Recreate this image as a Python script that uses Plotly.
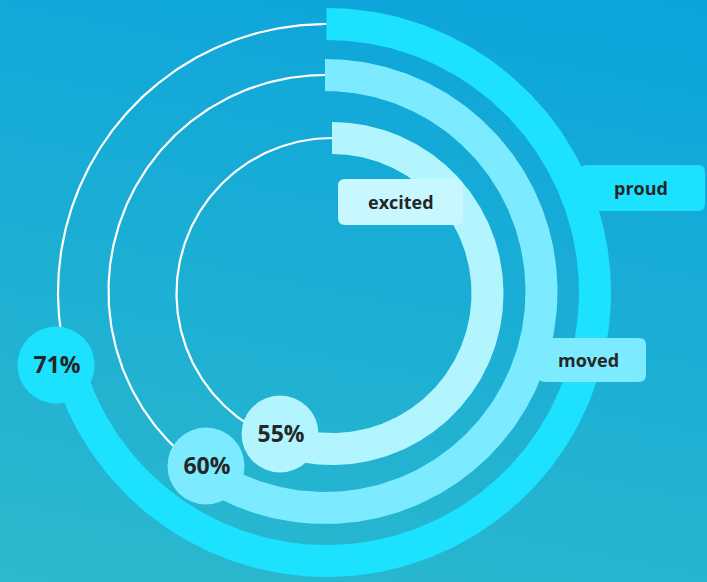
import numpy as np
import plotly.graph_objects as go

# ---- data ----
labels = ["proud", "moved", "excited"]
values = [71, 60, 55]
pct_text = ["71%", "60%", "55%"]

# ---- styling / layout constants ----
W, H = 707, 582
ring_cx = [326.5, 325.0, 332.0]
ring_cy = [292.5, 291.5, 293.5]
ring_r = [268.5, 216.5, 155.5]
ring_w = [32, 32, 32]
ring_col = ["#1CE1FF", "#7DEBFF", "#B2F5FF"]
bubble_dr = [11.5, -5.3, -5.7]
bubble_dang = [-0.6, -1.7, 2.3]
bubble_d = 77
box_col = ["#1CE1FF", "#7DEBFF", "#C7F8FF"]
boxes = [(580, 165, 705, 211), (538, 338, 646, 382), (338, 179, 463, 225)]
label_dx = [-2, -4, 0]
text_col = "#262626"
FONT = "Open Sans"

fig = go.Figure()

# background gradient
gx = np.linspace(0, W, 12)
gy = np.linspace(0, H, 12)
GX, GY = np.meshgrid(gx, gy)
Z = 0.8 * GY / H + 0.2 * (1 - GX / W)
fig.add_trace(go.Heatmap(x=gx, y=gy, z=Z, zsmooth="best", showscale=False,
                         colorscale=[[0, "#0BA4DC"], [1, "#2CB9CD"]],
                         hoverinfo="skip"))


def pt(cx, cy, r, frac, dang=0.0):
    th = np.deg2rad(90 - 360 * frac - dang)
    return cx + r * np.cos(th), cy - r * np.sin(th)


for i, v in enumerate(values):
    cx, cy, r = ring_cx[i], ring_cy[i], ring_r[i]
    t = np.linspace(v / 100.0, 1.0, 200)
    x, y = pt(cx, cy, r, t)
    fig.add_trace(go.Scatter(x=x, y=y, mode="lines",
                             line=dict(color="white", width=2.2),
                             hoverinfo="skip", showlegend=False))
for i, v in enumerate(values):
    cx, cy, r, w = ring_cx[i], ring_cy[i], ring_r[i], ring_w[i]
    t = np.linspace(0, v / 100.0, 300)
    xo, yo = pt(cx, cy, r + w / 2, t)
    xi, yi = pt(cx, cy, r - w / 2, t[::-1])
    fig.add_trace(go.Scatter(x=np.r_[xo, xi, xo[:1]], y=np.r_[yo, yi, yo[:1]],
                             mode="lines", fill="toself", fillcolor=ring_col[i],
                             line=dict(width=0, color=ring_col[i]),
                             hoverinfo="skip", showlegend=False))

for i, v in enumerate(values):
    bx, by = pt(ring_cx[i], ring_cy[i], ring_r[i] + bubble_dr[i], v / 100.0, bubble_dang[i])
    fig.add_trace(go.Scatter(x=[bx], y=[by], mode="markers",
                             marker=dict(size=bubble_d, color=ring_col[i], line=dict(width=0)),
                             hoverinfo="skip", showlegend=False))
    fig.add_trace(go.Scatter(x=[bx + 1], y=[by + 2], mode="text",
                             text=[pct_text[i]], textposition="middle center",
                             textfont=dict(family=FONT, size=23, color=text_col, weight=700),
                             hoverinfo="skip", showlegend=False))


def rrect(x0, y0, x1, y1, r):
    return (f"M {x0+r},{y0} H {x1-r} Q {x1},{y0} {x1},{y0+r} V {y1-r} "
            f"Q {x1},{y1} {x1-r},{y1} H {x0+r} Q {x0},{y1} {x0},{y1-r} "
            f"V {y0+r} Q {x0},{y0} {x0+r},{y0} Z")


shapes = []
annotations = []
for i, lab in enumerate(labels):
    x0, y0, x1, y1 = boxes[i]
    shapes.append(dict(type="path", path=rrect(x0, y0, x1, y1, 7), xref="x", yref="y",
                       fillcolor=box_col[i], line=dict(width=0), layer="above"))
    annotations.append(dict(x=(x0 + x1) / 2 + label_dx[i], y=(y0 + y1) / 2, xref="x", yref="y",
                            text=lab, showarrow=False,
                            font=dict(family=FONT, size=18, color=text_col, weight=700)))

fig.update_layout(
    width=W, height=H, margin=dict(l=0, r=0, t=0, b=0),
    paper_bgcolor="#17A9D6", plot_bgcolor="#17A9D6",
    xaxis=dict(range=[0, W], visible=False, fixedrange=True),
    yaxis=dict(range=[H, 0], visible=False, fixedrange=True),
    shapes=shapes, annotations=annotations, showlegend=False,
)

fig.write_html("out.html")
